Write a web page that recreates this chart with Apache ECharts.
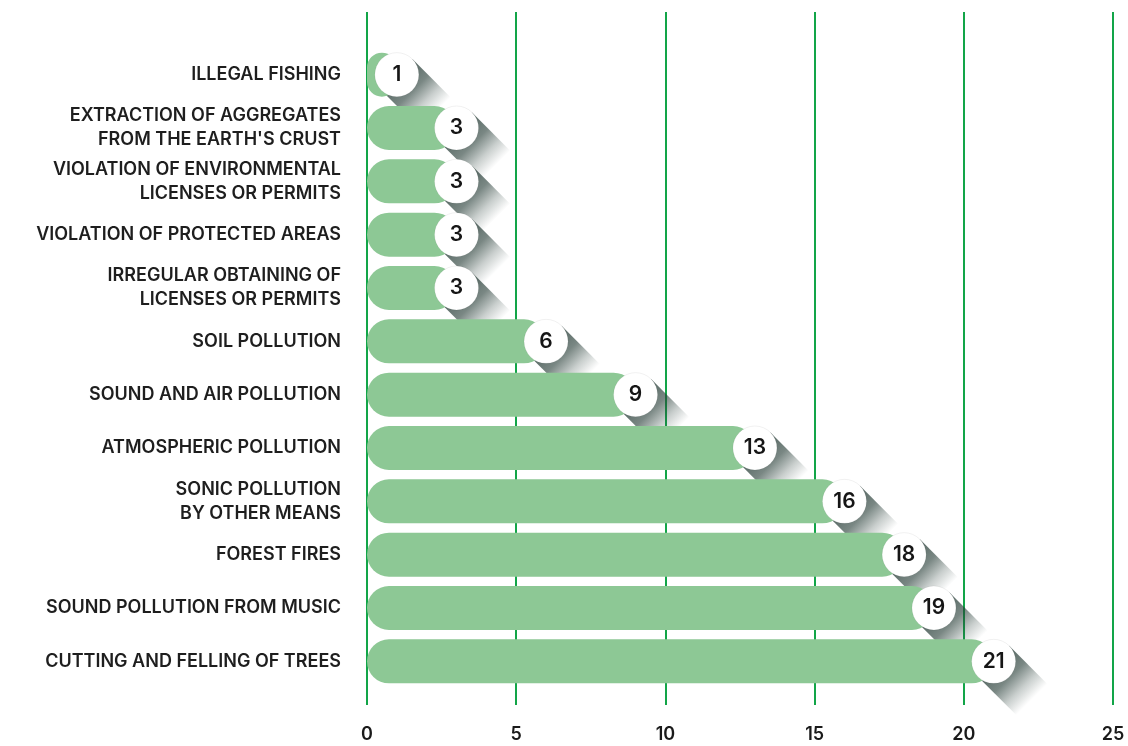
<!DOCTYPE html>
<html>
<head>
<meta charset="utf-8">
<script src="https://cdn.jsdelivr.net/npm/echarts@6/dist/echarts.min.js"></script>
<style>
  html, body { margin: 0; padding: 0; background: #ffffff; }
  #chart { width: 1128px; height: 746px; }
</style>
</head>
<body>
<div id="chart"></div>
<script>
// Environmental offence categories, top to bottom
const categories = [
  'ILLEGAL FISHING',
  "EXTRACTION OF AGGREGATES\nFROM THE EARTH'S CRUST",
  'VIOLATION OF ENVIRONMENTAL\nLICENSES OR PERMITS',
  'VIOLATION OF PROTECTED AREAS',
  'IRREGULAR OBTAINING OF\nLICENSES OR PERMITS',
  'SOIL POLLUTION',
  'SOUND AND AIR POLLUTION',
  'ATMOSPHERIC POLLUTION',
  'SONIC POLLUTION\nBY OTHER MEANS',
  'FOREST FIRES',
  'SOUND POLLUTION FROM MUSIC',
  'CUTTING AND FELLING OF TREES'
];
const counts = [1, 3, 3, 3, 3, 6, 9, 13, 16, 18, 19, 21];
const xTicks = [0, 5, 10, 15, 20, 25];

const FONT = 'Inter, "Open Sans", sans-serif';
const BAR_GREEN = '#8dc895';
const LINE_GREEN = '#12a548';
const R = 22;

const points = counts.map((v, i) => [v, i]);

const chart = echarts.init(document.getElementById('chart'), null, { renderer: 'canvas' });

chart.setOption({
  animation: false,
  backgroundColor: '#ffffff',
  grid: [
    { left: 367, right: 15, top: 48, bottom: 58 },
    { left: 367, right: 15, top: 12, bottom: 41 }
  ],
  xAxis: [
    { gridIndex: 0, type: 'value', min: 0, max: 25, show: false },
    {
      gridIndex: 1, type: 'value', min: xTicks[0], max: xTicks[xTicks.length - 1], interval: 5,
      axisLine: { show: false }, axisTick: { show: false },
      splitLine: { show: true, lineStyle: { color: LINE_GREEN, width: 2 } },
      axisLabel: { margin: 21, fontFamily: FONT, fontSize: 18, fontWeight: 600, color: '#1a1a1a' }
    }
  ],
  yAxis: [
    {
      gridIndex: 0, type: 'category', data: categories, inverse: true,
      axisLine: { show: false }, axisTick: { show: false }, splitLine: { show: false },
      axisLabel: { margin: 26, fontFamily: FONT, fontSize: 18, fontWeight: 600, color: '#1e1e1e', lineHeight: 24, align: 'right', padding: [4, 0, 0, 0] }
    },
    { gridIndex: 1, type: 'value', show: false }
  ],
  series: [
    {
      // long diagonal shadow cast by each value badge
      type: 'custom', xAxisIndex: 0, yAxisIndex: 0, z: 1, silent: true,
      data: points,
      renderItem: function (params, api) {
        const c = api.coord([api.value(0), api.value(1)]);
        const s = Math.SQRT1_2, L = 54;
        const p1 = [c[0] + R * s, c[1] - R * s];
        const p2 = [c[0] - R * s, c[1] + R * s];
        const p3 = [p2[0] + L * s, p2[1] + L * s];
        const p4 = [p1[0] + L * s, p1[1] + L * s];
        return {
          type: 'polygon',
          shape: { points: [p1, p4, p3, p2] },
          style: {
            fill: new echarts.graphic.LinearGradient(c[0], c[1], c[0] + L * s, c[1] + L * s, [
              { offset: 0, color: 'rgba(40,62,56,0.8)' },
              { offset: 0.42, color: 'rgba(40,62,56,0.62)' },
              { offset: 0.72, color: 'rgba(40,62,56,0.25)' },
              { offset: 1, color: 'rgba(40,62,56,0)' }
            ], true)
          }
        };
      }
    },
    {
      type: 'bar', xAxisIndex: 0, yAxisIndex: 0, z: 2,
      data: counts, barWidth: 44,
      itemStyle: { color: BAR_GREEN, borderRadius: R }
    },
    {
      type: 'scatter', xAxisIndex: 0, yAxisIndex: 0, z: 3,
      data: points, symbol: 'circle', symbolSize: 2 * R,
      itemStyle: { color: '#ffffff', borderColor: 'rgba(0,0,0,0.06)', borderWidth: 1, opacity: 1 },
      label: {
        show: true, position: 'inside',
        formatter: p => String(p.value[0]),
        fontFamily: FONT, fontSize: 21, fontWeight: 600, color: '#161616'
      }
    }
  ]
});
</script>
</body>
</html>
